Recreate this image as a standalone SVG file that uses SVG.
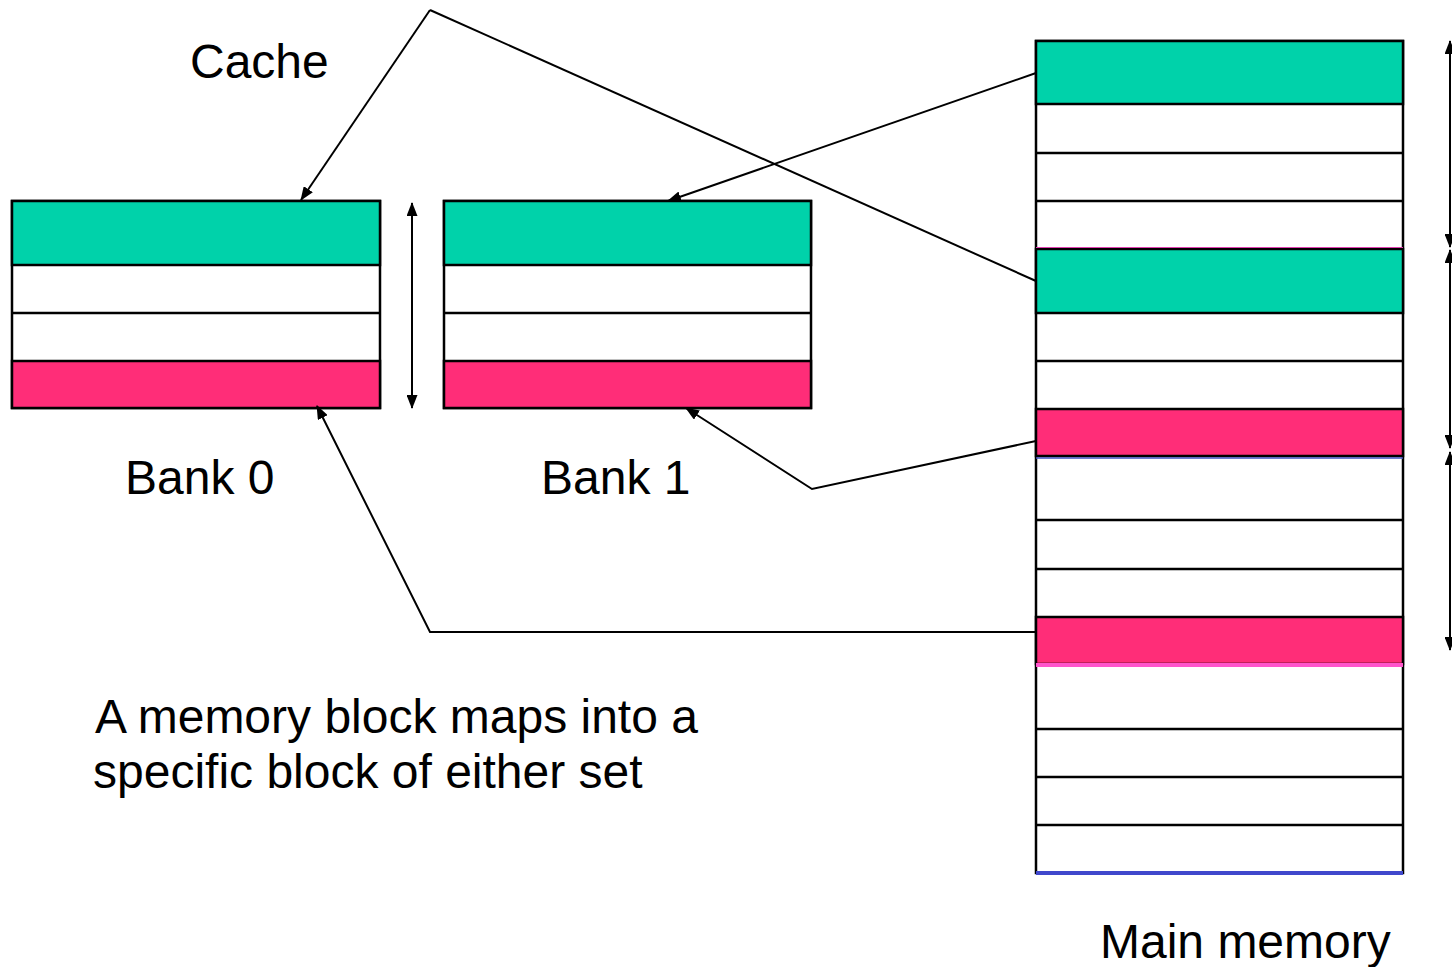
<svg xmlns="http://www.w3.org/2000/svg" width="1452" height="967" viewBox="0 0 1452 967">
  <style>
    .lbl { font-family: "Liberation Sans", Arial, sans-serif; font-size: 48px; fill: #000; }
    .box { stroke: #000; stroke-width: 2.5; }
    .sep { stroke: #000; stroke-width: 2.5; }
    .green { fill: #00D2AA; }
    .pink { fill: #FF2D78; }
    .white { fill: #fff; }
    .conn { fill: none; stroke: #000; stroke-width: 2; }
  </style>
  <defs>
    <marker id="head" viewBox="0 0 14 11" refX="13" refY="5.5" markerWidth="14" markerHeight="11" markerUnits="userSpaceOnUse" orient="auto-start-reverse">
      <path d="M0,0 L14,5.5 L0,11 Z" fill="#000"/>
    </marker>
  </defs>
  <rect width="1452" height="967" fill="#fff"/>

  <!-- Cache bank 0 -->
  <g id="bank0">
    <rect x="12" y="201" width="368" height="207" class="white box"/>
    <rect x="12" y="201" width="368" height="64" class="green box"/>
    <line x1="12" y1="313" x2="380" y2="313" class="sep"/>
    <rect x="12" y="361" width="368" height="47" class="pink box"/>
  </g>

  <!-- Cache bank 1 -->
  <g id="bank1">
    <rect x="444" y="201" width="367" height="207" class="white box"/>
    <rect x="444" y="201" width="367" height="64" class="green box"/>
    <line x1="444" y1="313" x2="811" y2="313" class="sep"/>
    <rect x="444" y="361" width="367" height="47" class="pink box"/>
  </g>

  <!-- Main memory blocks -->
  <g id="main-memory">
    <rect x="1036" y="41" width="367" height="832" class="white box"/>
    <rect x="1036" y="41" width="367" height="63" class="green box"/>
    <line x1="1036" y1="153" x2="1403" y2="153" class="sep"/>
    <line x1="1036" y1="201" x2="1403" y2="201" class="sep"/>
    <rect x="1036" y="249" width="367" height="64" class="green box"/>
    <line x1="1036" y1="247.5" x2="1403" y2="247.5" stroke="#E040B0" stroke-width="1"/>
    <line x1="1036" y1="361" x2="1403" y2="361" class="sep"/>
    <rect x="1036" y="409" width="367" height="47" class="pink box"/>
    <line x1="1036" y1="458" x2="1403" y2="458" stroke="#4050C0" stroke-width="1.5"/>
    <line x1="1036" y1="520" x2="1403" y2="520" class="sep"/>
    <line x1="1036" y1="569" x2="1403" y2="569" class="sep"/>
    <rect x="1036" y="617" width="367" height="47" class="pink box"/>
    <line x1="1036" y1="665" x2="1403" y2="665" stroke="#FF55CC" stroke-width="4"/>
    <line x1="1036" y1="729" x2="1403" y2="729" class="sep"/>
    <line x1="1036" y1="777" x2="1403" y2="777" class="sep"/>
    <line x1="1036" y1="825" x2="1403" y2="825" class="sep"/>
    <line x1="1036" y1="873" x2="1403" y2="873" stroke="#4048CC" stroke-width="4"/>
  </g>

  <!-- Connectors -->
  <g id="connectors">
    <line x1="430" y1="10" x2="301" y2="200" class="conn" marker-end="url(#head)"/>
    <line x1="430" y1="10" x2="1036" y2="281" class="conn"/>
    <line x1="1036" y1="73" x2="668" y2="201" class="conn" marker-end="url(#head)"/>
    <polyline points="1036,441 812,489 686,408" class="conn" marker-end="url(#head)"/>
    <polyline points="1036,632 430,632 317,406" class="conn" marker-end="url(#head)"/>
    <!-- set height marker between the banks -->
    <line x1="412" y1="203" x2="412" y2="408" class="conn" marker-start="url(#head)" marker-end="url(#head)"/>
    <!-- block span markers beside main memory -->
    <line x1="1450" y1="41" x2="1450" y2="247" class="conn" marker-start="url(#head)" marker-end="url(#head)"/>
    <line x1="1450" y1="250" x2="1450" y2="448" class="conn" marker-start="url(#head)" marker-end="url(#head)"/>
    <line x1="1450" y1="452" x2="1450" y2="650" class="conn" marker-start="url(#head)" marker-end="url(#head)"/>
  </g>

  <!-- Labels -->
  <g id="labels">
    <text x="190" y="78" class="lbl">Cache</text>
    <text x="125" y="494" class="lbl">Bank 0</text>
    <text x="541" y="494" class="lbl">Bank 1</text>
    <text x="95" y="733" class="lbl">A memory block maps into a</text>
    <text x="93" y="788" class="lbl">specific block of either set</text>
    <text x="1100" y="958" class="lbl">Main memory</text>
  </g>
</svg>
